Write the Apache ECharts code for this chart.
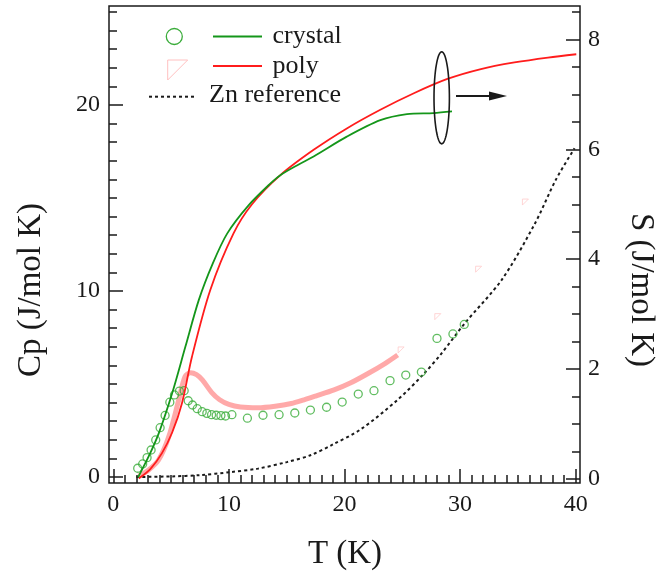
<!DOCTYPE html>
<html>
<head>
<meta charset="utf-8">
<script src="https://cdn.jsdelivr.net/npm/echarts@6/dist/echarts.min.js"></script>
<style>
  html, body { margin: 0; padding: 0; background: #fff; }
  #chart { width: 666px; height: 582px; }
</style>
</head>
<body>
<div id="chart"></div>
<script>
// Specific heat Cp (left axis) and entropy S (right axis) versus temperature T

// crystal: measured Cp (circles), T in K, Cp in J/mol K
const crystalCp = [
  [2.11, 0.47], [2.54, 0.70], [2.92, 1.04], [3.27, 1.45], [3.67, 1.99], [4.05, 2.65],
  [4.48, 3.31], [4.89, 4.02], [5.29, 4.41], [5.72, 4.62], [6.13, 4.64], [6.48, 4.10],
  [6.85, 3.87], [7.26, 3.67], [7.69, 3.51], [8.09, 3.42], [8.50, 3.35], [8.90, 3.32],
  [9.31, 3.30], [9.71, 3.28], [10.26, 3.35], [11.6, 3.16], [12.95, 3.32], [14.34, 3.35],
  [15.7, 3.44], [17.05, 3.60], [18.45, 3.75], [19.8, 4.03], [21.19, 4.46], [22.55, 4.64],
  [23.94, 5.18], [25.3, 5.48], [26.65, 5.64], [28.0, 7.45], [29.38, 7.69], [30.36, 8.20]
];

// crystal: entropy S, J/mol K
const crystalS = [
  [2.14, 0.03], [3.06, 0.41], [3.93, 0.83], [5.09, 1.56], [6.24, 2.41], [7.4, 3.26],
  [8.6, 3.92], [9.86, 4.47], [11.7, 4.98], [13.6, 5.38], [14.45, 5.53], [16.0, 5.72],
  [17.33, 5.87], [20.2, 6.23], [23.1, 6.53], [25.4, 6.64], [27.7, 6.66], [29.3, 6.69]
];

// poly: dense Cp run (drawn as a band)
const polyCpDense = [
  [2.2, 0.05], [3.0, 0.35], [3.9, 0.9], [4.8, 2.17], [5.66, 4.14], [6.2, 5.39],
  [6.68, 5.6], [7.2, 5.5], [7.7, 5.22], [8.5, 4.55], [9.2, 4.15], [10.0, 3.9],
  [11.0, 3.76], [12.5, 3.72], [14.0, 3.8], [15.4, 3.95], [16.5, 4.15], [17.5, 4.35],
  [19.1, 4.68], [20.5, 5.05], [22.0, 5.55], [23.5, 6.1], [24.6, 6.56]
];

// poly: sparse Cp points at higher T
const polyCpSparse = [[24.9, 6.83], [28.07, 8.62], [31.6, 11.17], [35.65, 14.78]];

// poly: entropy S
const polyS = [
  [2.2, 0.01], [3.2, 0.18], [4.21, 0.47], [5.1, 0.85], [5.94, 1.38], [6.81, 2.23],
  [8.39, 3.44], [10.4, 4.47], [12.0, 5.0], [14.45, 5.53],
  [17.33, 5.99], [20.2, 6.38], [23.1, 6.72], [26.0, 7.02], [28.9, 7.28], [31.8, 7.46],
  [34.7, 7.58], [37.6, 7.67], [40.05, 7.73]
];

// Zn reference Cp
const znRef = [
  [2.0, 0.0], [5.0, 0.03], [7.5, 0.1], [10.1, 0.26], [12.5, 0.45], [15.0, 0.8],
  [17.1, 1.18], [19.0, 1.75], [21.4, 2.56], [24.6, 4.15], [26.9, 5.57], [28.4, 6.65],
  [30.4, 8.26], [33.6, 10.6], [36.45, 13.6], [38.3, 16.0], [39.9, 17.67]
];

// tick values
const tTicks = [0, 10, 20, 30, 40];
const cpTicks = [0, 10, 20];
const sTicks = [0, 2, 4, 6, 8];

const tMinor = [];
for (let v = 0; v <= 40; v += 1) tMinor.push(v);
const cpMinor = [];
for (let v = 0; v <= 25; v += 1) cpMinor.push(v);
const sMinor = [];
for (let v = 0; v <= 8.5; v += 0.5) sMinor.push(v);

const SERIF = '"Liberation Serif", "DejaVu Serif", serif';
const INK = '#1a1a1a';
const GREEN_LINE = '#14961a';
const GREEN_MARK = '#3aac3a';
const RED = '#ff1c1c';

const tickLine = { color: INK, width: 1.5 };
const labelStyle = { fontFamily: SERIF, fontSize: 24, color: INK };

function valueAxis(extra) {
  return Object.assign({
    type: 'value',
    splitLine: { show: false },
    axisLine: { show: false, onZero: false },
    axisPointer: { show: false }
  }, extra);
}

const chart = echarts.init(document.getElementById('chart'), null, { renderer: 'canvas' });

// ellipse outline around the S curves near T ~ 29 K
const ellipsePts = [];
for (let i = 0; i <= 72; i++) {
  const a = (i / 72) * Math.PI * 2;
  ellipsePts.push([441.7 + 7.7 * Math.cos(a), 97.8 + 46 * Math.sin(a)]);
}

const option = {
  animation: false,
  backgroundColor: '#fff',
  grid: {
    left: 109, right: 86, top: 6, bottom: 99,
    show: true, borderColor: INK, borderWidth: 1.5, backgroundColor: 'transparent'
  },
  xAxis: [
    valueAxis({
      min: -0.372, max: 40.372, position: 'bottom',
      axisTick: { show: true, inside: true, length: 14, lineStyle: tickLine, customValues: tTicks },
      axisLabel: { show: true, margin: 10, customValues: tTicks, ...labelStyle }
    }),
    valueAxis({
      min: -0.372, max: 40.372, position: 'bottom',
      axisTick: { show: true, inside: true, length: 8, lineStyle: tickLine, customValues: tMinor },
      axisLabel: { show: false }
    })
  ],
  yAxis: [
    valueAxis({
      min: -0.323, max: 25.32, position: 'left',
      axisTick: { show: true, inside: true, length: 14, lineStyle: tickLine, customValues: cpTicks },
      axisLabel: { show: true, margin: 9, customValues: cpTicks, ...labelStyle }
    }),
    valueAxis({
      min: -0.323, max: 25.32, position: 'left',
      axisTick: { show: true, inside: true, length: 8, lineStyle: tickLine, customValues: cpMinor },
      axisLabel: { show: false }
    }),
    valueAxis({
      min: -0.073, max: 8.608, position: 'right',
      axisTick: { show: true, inside: true, length: 14, lineStyle: tickLine, customValues: sTicks },
      axisLabel: { show: true, margin: 8, customValues: sTicks, ...labelStyle }
    }),
    valueAxis({
      min: -0.073, max: 8.608, position: 'right',
      axisTick: { show: true, inside: true, length: 8, lineStyle: tickLine, customValues: sMinor },
      axisLabel: { show: false }
    })
  ],
  series: [
    {
      name: 'Zn reference', type: 'line', data: znRef, xAxisIndex: 0, yAxisIndex: 0,
      smooth: 0.3, showSymbol: false, z: 2,
      lineStyle: { color: INK, width: 2, type: [3, 3] }
    },
    {
      name: 'poly Cp', type: 'line', data: polyCpDense, xAxisIndex: 0, yAxisIndex: 0,
      smooth: 0.3, showSymbol: false, z: 3,
      lineStyle: { color: 'rgba(255,40,40,0.4)', width: 5 }
    },
    {
      name: 'poly Cp sparse', type: 'scatter', data: polyCpSparse, xAxisIndex: 0, yAxisIndex: 0,
      symbol: 'path://M0,0 L10,0 L0,10 Z', symbolSize: 6, z: 3,
      itemStyle: { color: 'transparent', borderColor: '#ffcaca', borderWidth: 1 }
    },
    {
      name: 'crystal Cp', type: 'scatter', data: crystalCp, xAxisIndex: 0, yAxisIndex: 0,
      symbol: 'circle', symbolSize: 8, z: 4,
      itemStyle: { color: 'transparent', borderColor: GREEN_MARK, borderWidth: 1.3 }
    },
    {
      name: 'poly S', type: 'line', data: polyS, xAxisIndex: 0, yAxisIndex: 2,
      smooth: 0.3, showSymbol: false, z: 5,
      lineStyle: { color: RED, width: 1.8 }
    },
    {
      name: 'crystal S', type: 'line', data: crystalS, xAxisIndex: 0, yAxisIndex: 2,
      smooth: 0.3, showSymbol: false, z: 5,
      lineStyle: { color: GREEN_LINE, width: 1.8 }
    }
  ],
  graphic: [
    // axis titles
    { type: 'text', x: 31, y: 290, rotation: Math.PI / 2,
      style: { text: 'Cp (J/mol K)', font: '33px ' + SERIF, fill: INK,
               textAlign: 'center', textVerticalAlign: 'middle', align: 'center', verticalAlign: 'middle' } },
    { type: 'text', x: 641, y: 290, rotation: -Math.PI / 2,
      style: { text: 'S (J/mol K)', font: '33px ' + SERIF, fill: INK,
               textAlign: 'center', textVerticalAlign: 'middle', align: 'center', verticalAlign: 'middle' } },
    { type: 'text', x: 345, y: 554,
      style: { text: 'T (K)', font: '33px ' + SERIF, fill: INK,
               textAlign: 'center', textVerticalAlign: 'middle', align: 'center', verticalAlign: 'middle' } },

    // legend
    { type: 'circle', shape: { cx: 174.3, cy: 36.5, r: 8 },
      style: { fill: 'none', stroke: GREEN_MARK, lineWidth: 1.3 } },
    { type: 'line', shape: { x1: 213, y1: 36.5, x2: 262, y2: 36.5 },
      style: { stroke: GREEN_LINE, lineWidth: 1.8 } },
    { type: 'text', x: 272.5, y: 36,
      style: { text: 'crystal', font: '26px ' + SERIF, fill: INK,
               textAlign: 'left', textVerticalAlign: 'middle', align: 'left', verticalAlign: 'middle' } },
    { type: 'polygon', shape: { points: [[167.7, 60], [187.7, 60], [167.7, 80]] },
      style: { fill: 'none', stroke: '#ffc0c0', lineWidth: 1 } },
    { type: 'line', shape: { x1: 213, y1: 66, x2: 262, y2: 66 },
      style: { stroke: RED, lineWidth: 1.8 } },
    { type: 'text', x: 272.5, y: 66,
      style: { text: 'poly', font: '26px ' + SERIF, fill: INK,
               textAlign: 'left', textVerticalAlign: 'middle', align: 'left', verticalAlign: 'middle' } },
    { type: 'line', shape: { x1: 149, y1: 96.7, x2: 196, y2: 96.7 },
      style: { stroke: INK, lineWidth: 2, lineDash: [3, 3] } },
    { type: 'text', x: 209, y: 95.5,
      style: { text: 'Zn reference', font: '26px ' + SERIF, fill: INK,
               textAlign: 'left', textVerticalAlign: 'middle', align: 'left', verticalAlign: 'middle' } },

    // ellipse and arrow pointing to the S axis
    { type: 'polyline', shape: { points: ellipsePts },
      style: { fill: 'none', stroke: INK, lineWidth: 1.6 }, z: 10 },
    { type: 'line', shape: { x1: 456, y1: 96, x2: 492, y2: 96 },
      style: { stroke: INK, lineWidth: 2 }, z: 10 },
    { type: 'polygon', shape: { points: [[489, 91.5], [507, 96], [489, 100.5]] },
      style: { fill: INK, stroke: 'none' }, z: 10 }
  ]
};

chart.setOption(option);
</script>
</body>
</html>
